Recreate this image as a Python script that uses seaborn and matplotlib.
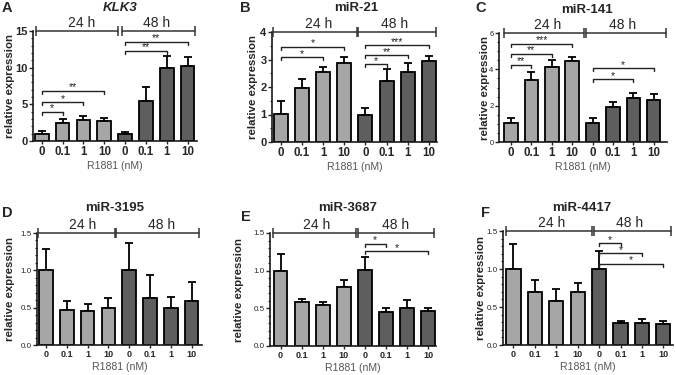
import numpy as np
import pandas as pd
import matplotlib
matplotlib.use("Agg")
import matplotlib.pyplot as plt
from matplotlib.ticker import MultipleLocator, FormatStrFormatter
import seaborn as sns

# ---------------- data ----------------
categories = ['0', '0.1', '1', '10', '0', '0.1', '1', '10']
time_groups = ['24 h'] * 4 + ['48 h'] * 4

klk3_mean = [1.0, 2.47, 2.92, 2.70, 0.96, 5.43, 10.0, 10.27]
klk3_err = [0.30, 0.59, 0.55, 0.45, 0.27, 1.92, 1.60, 1.13]
mir21_mean = [1.01, 1.98, 2.56, 2.86, 1.00, 2.22, 2.56, 2.95]
mir21_err = [0.49, 0.30, 0.16, 0.24, 0.25, 0.43, 0.30, 0.17]
mir141_mean = [1.02, 3.39, 4.11, 4.44, 1.02, 1.94, 2.41, 2.31]
mir141_err = [0.28, 0.46, 0.43, 0.25, 0.31, 0.28, 0.31, 0.32]
mir3195_mean = [1.00, 0.47, 0.46, 0.50, 1.00, 0.63, 0.49, 0.59]
mir3195_err = [0.28, 0.12, 0.09, 0.13, 0.36, 0.31, 0.15, 0.26]
mir3687_mean = [1.00, 0.58, 0.55, 0.78, 1.01, 0.45, 0.51, 0.46]
mir3687_err = [0.22, 0.05, 0.04, 0.09, 0.17, 0.05, 0.10, 0.05]
mir4417_mean = [1.00, 0.70, 0.58, 0.70, 1.00, 0.285, 0.285, 0.28]
mir4417_err = [0.33, 0.15, 0.16, 0.12, 0.24, 0.035, 0.055, 0.03]

# significance: (bar i, bar j, height, label)
klk3_sig = [(0, 1, 3.97, '*'), (0, 2, 5.3, '*'), (0, 3, 6.85, '**'),
            (4, 6, 12.3, '**'), (4, 7, 13.56, '**')]
mir21_sig = [(0, 2, 3.08, '*'), (0, 3, 3.46, '*'), (4, 5, 2.83, '*'),
             (4, 6, 3.16, '**'), (4, 7, 3.52, '***')]
mir141_sig = [(0, 1, 4.26, '**'), (0, 2, 4.85, '**'), (0, 3, 5.4, '***'),
              (4, 6, 3.46, '*'), (4, 7, 4.07, '*')]
mir3195_sig = []
mir3687_sig = [(4, 5, 1.36, '*'), (4, 7, 1.26, '*')]
mir4417_sig = [(4, 5, 1.34, '*'), (4, 6, 1.21, '*'), (4, 7, 1.07, '*')]

titles = ['KLK3', 'miR-21', 'miR-141', 'miR-3195', 'miR-3687', 'miR-4417']
letters = ['A', 'B', 'C', 'D', 'E', 'F']
means = [klk3_mean, mir21_mean, mir141_mean, mir3195_mean, mir3687_mean, mir4417_mean]
errs = [klk3_err, mir21_err, mir141_err, mir3195_err, mir3687_err, mir4417_err]
sigs = [klk3_sig, mir21_sig, mir141_sig, mir3195_sig, mir3687_sig, mir4417_sig]

# ---------------- layout (pixels) ----------------
W, H = 676, 375
layout = [
    dict(l=33, r=197, t=31, b=141, xlim=(-0.42, 7.45), ymax=15, major=5, minor=1, row=0,
         br=((-0.27, 3.67), (3.85, 7.37)), title=(120, 8), letter=(2, 8),
         g24=82, g48=157, ylab=18, yfs=8, ybold=True),
    dict(l=272, r=437, t=32, b=142, xlim=(-0.41, 7.38), ymax=4, major=1, minor=0.5, row=0,
         br=((-0.34, 3.6), (3.67, 7.32)), title=(356, 8), letter=(240, 8),
         g24=319, g48=395, ylab=14.5, yfs=8, ybold=True),
    dict(l=499, r=667, t=33, b=142, xlim=(-0.59, 7.65), ymax=6, major=2, minor=0.5, row=0,
         br=((-0.34, 3.6), (3.7, 7.6)), title=(587, 10), letter=(475, 8),
         g24=548, g48=623, ylab=9, yfs=5.5, ybold=False),
    dict(l=37, r=202, t=233, b=345, xlim=(-0.43, 7.5), ymax=1.5, major=0.5, minor=0.1, row=1,
         br=((-0.38, 3.3), (3.38, 7.36)), title=(115, 208), letter=(2, 213),
         g24=83, g48=162, ylab=22.5, yfs=5.8, ybold=False),
    dict(l=270, r=436, t=233, b=346, xlim=(-0.5, 7.38), ymax=1.5, major=0.5, minor=0.1, row=1,
         br=((-0.35, 3.56), (3.66, 7.3)), title=(348, 208), letter=(241, 217),
         g24=317, g48=396, ylab=26, yfs=5.8, ybold=False),
    dict(l=503, r=673, t=231, b=345, xlim=(-0.49, 7.45), ymax=1.5, major=0.5, minor=0.1, row=1,
         br=((-0.33, 3.68), (3.75, 7.37)), title=(582, 208), letter=(481, 213),
         g24=552, g48=630, ylab=17.5, yfs=5.8, ybold=False),
]

sns.set_theme(style='ticks')
plt.rcParams['font.family'] = ['Liberation Sans', 'DejaVu Sans']

fig = plt.figure(figsize=(W / 100, H / 100), dpi=100)
palette = {'24 h': '#a6a6a6', '48 h': '#5e5e5e'}

for k in range(6):
    L = layout[k]
    axw = L['r'] - L['l']
    ax = fig.add_axes([L['l'] / W, 1 - L['b'] / H, axw / W, (L['b'] - L['t']) / H])
    df = pd.DataFrame({'pos': list(range(8)), 'value': means[k], 'time': time_groups})
    sns.barplot(data=df, x='pos', y='value', hue='time', palette=palette, dodge=False,
                width=0.66, edgecolor='black', linewidth=1.3, legend=False, errorbar=None,
                ax=ax, zorder=2)
    x = np.arange(8)
    ax.errorbar(x, means[k], yerr=[np.zeros(8), errs[k]], fmt='none', ecolor='black',
                elinewidth=1.3, capsize=2.6, capthick=1.3, zorder=1)
    ax.set_xlim(*L['xlim'])
    ax.set_ylim(0, L['ymax'])
    ax.yaxis.set_major_locator(MultipleLocator(L['major']))
    ax.yaxis.set_minor_locator(MultipleLocator(L['minor']))
    sns.despine(ax=ax)
    for s in ['left', 'bottom']:
        ax.spines[s].set_linewidth(1.2)
        ax.spines[s].set_color('#1a1a1a')
    ax.set_xticks(x)
    row = L['row']
    xt_fs = 8.3 if row == 0 else 6.5
    ax.set_xticklabels(categories, fontsize=xt_fs, fontweight='bold')
    ax.tick_params(axis='y', labelsize=L['yfs'], width=1.0, length=3, pad=1)
    if L['ybold']:
        for t in ax.get_yticklabels():
            t.set_fontweight('bold')
    if row == 1:
        ax.yaxis.set_major_formatter(FormatStrFormatter('%.1f'))
    ax.tick_params(axis='y', which='minor', width=0.8, length=1.8)
    ax.tick_params(axis='x', length=2, width=1.0, pad=1.5)
    ax.set_ylabel('relative expression', fontsize=8.2, fontweight='bold')
    ax.yaxis.set_label_coords(-L['ylab'] / axw, 0.5)
    ax.set_xlabel('R1881 (nM)', fontsize=7.6, color='#555555', labelpad=2)

    # group brackets along the top
    ymax = L['ymax']
    for (x0, x1) in L['br']:
        ax.plot([x0, x1], [ymax, ymax], color='#333333', lw=1.1, marker='|', ms=6.5,
                mew=1.1, clip_on=False, zorder=3)
    gy = L['t'] - 8
    fig.text(L['g24'] / W, 1 - gy / H, '24 h', ha='center', va='center', fontsize=10)
    fig.text(L['g48'] / W, 1 - gy / H, '48 h', ha='center', va='center', fontsize=10)

    # significance brackets
    tick = ymax * 3.0 / (L['b'] - L['t'])
    for (i, j, h, lab) in sigs[k]:
        ax.plot([i, i, j, j], [h - tick, h, h, h - tick], color='#222222', lw=1.0,
                clip_on=False, zorder=3)
        ax.annotate(lab, xy=((i + j) / 2, h), xytext=(0, -1.2), textcoords='offset points',
                    ha='center', va='bottom', fontsize=7.5, color='#222222')

    # title and panel letter
    tx, ty = L['title']
    fig.text(tx / W, 1 - ty / H, titles[k], ha='center', va='center', fontsize=9.5,
             fontweight='bold', fontstyle='italic' if k == 0 else 'normal')
    lx, ly = L['letter']
    fig.text(lx / W, 1 - ly / H, letters[k], ha='left', va='center', fontsize=10.5,
             fontweight='bold')

fig.savefig('out.png', dpi=100)
